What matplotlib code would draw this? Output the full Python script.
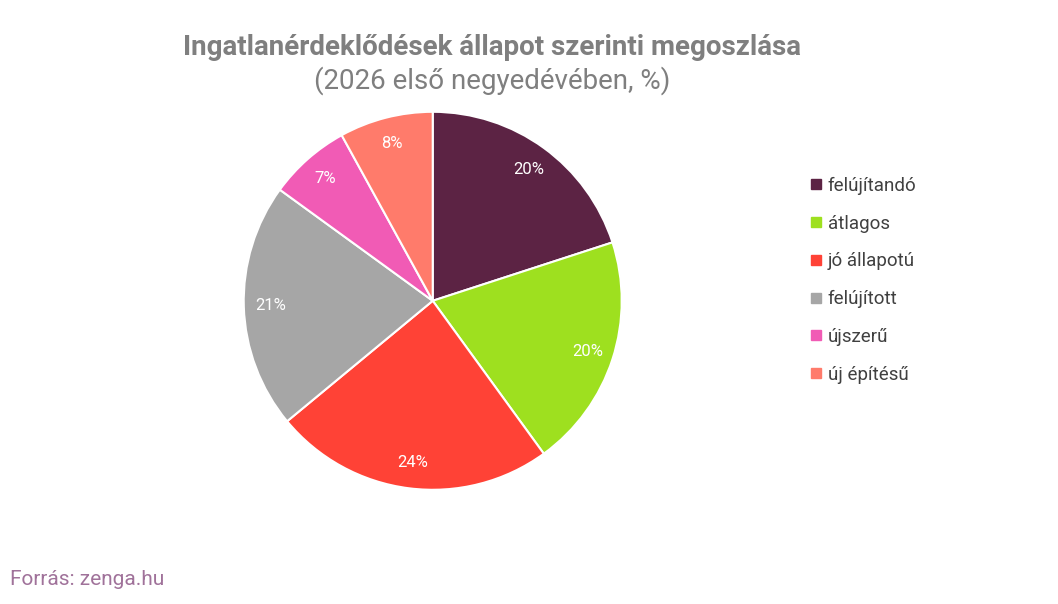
import matplotlib
matplotlib.use("Agg")
import matplotlib.pyplot as plt
from matplotlib.lines import Line2D

plt.rcParams['font.family'] = ['Roboto', 'DejaVu Sans']

categories = ["felújítandó", "átlagos", "jó állapotú", "felújított", "újszerű", "új építésű"]
values = [20, 20, 24, 21, 7, 8]
colors = ["#5c2344", "#9ee01f", "#ff4236", "#a6a6a6", "#f15bb5", "#ff7b6b"]

fig = plt.figure(figsize=(10.58, 6.04), dpi=100)
ax = fig.add_axes([0.409 - 0.1787, 0.502 - 0.3129, 0.3574, 0.6258])
wedges, texts, autotexts = ax.pie(values, colors=colors, startangle=90, counterclock=False,
                                  autopct=lambda p: f"{p:.0f}%", pctdistance=0.86,
                                  wedgeprops=dict(edgecolor="white", linewidth=1.5),
                                  textprops=dict(color="white", fontsize=12))
ax.set_aspect("equal")
ax.set_xlim(-1, 1)
ax.set_ylim(-1, 1)

fig.text(0.465, 0.922, "Ingatlanérdeklődések állapot szerinti megoszlása", ha="center", va="center",
         fontsize=20, fontweight="bold", color="#7f7f7f")
fig.text(0.465, 0.866, "(2026 első negyedévében, %)", ha="center", va="center",
         fontsize=20, color="#7f7f7f")

handles = [Line2D([0], [0], marker="s", linestyle="", markersize=7, markerfacecolor=c, markeredgecolor=c)
           for c in colors]
fig.legend(handles, categories, loc="upper left", bbox_to_anchor=(0.746, 0.735), frameon=False,
           fontsize=13.5, labelcolor="#404040", handletextpad=0.15, labelspacing=1.05, handlelength=1.0)

fig.text(0.009, 0.025, "Forrás: zenga.hu", fontsize=15, color="#a0729a", ha="left", va="bottom")

fig.savefig("out.png", dpi=100)
